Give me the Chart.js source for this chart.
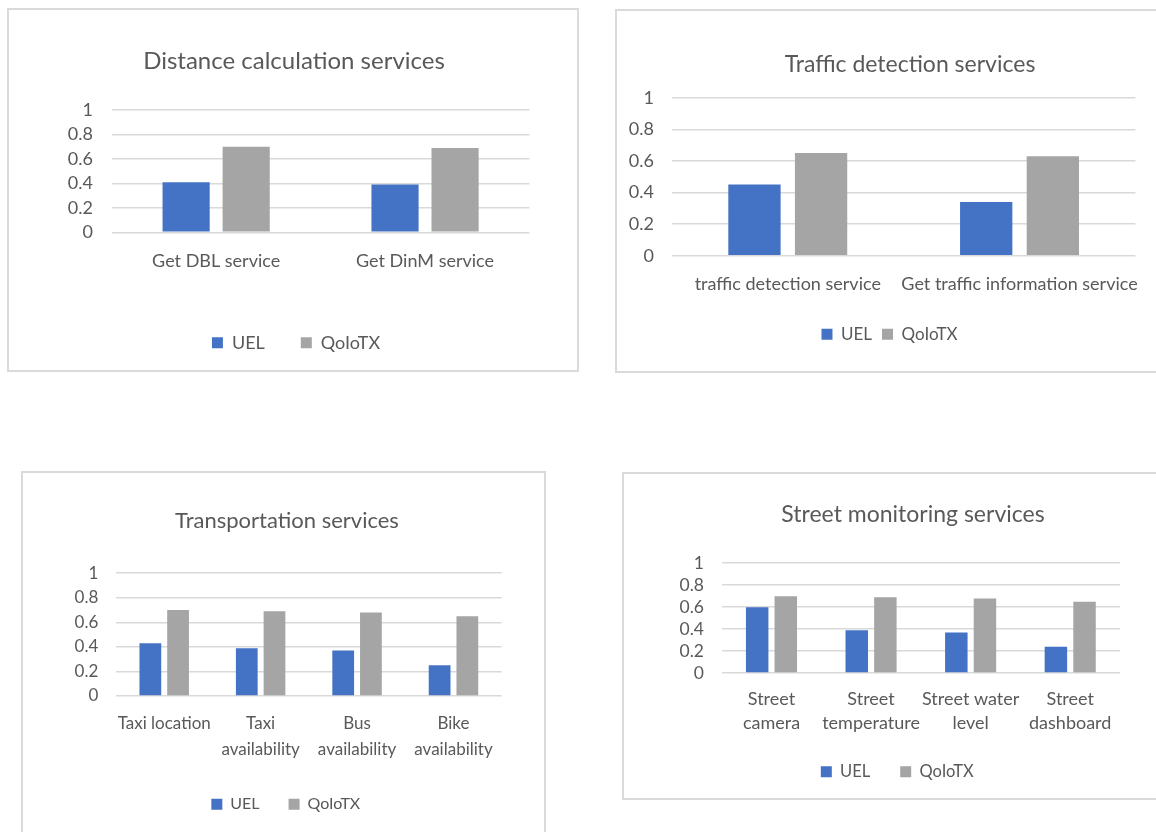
<!DOCTYPE html>
<html>
<head>
<meta charset="utf-8">
<script src="https://cdn.jsdelivr.net/npm/chart.js@4.4.1/dist/chart.umd.min.js"></script>
<style>
  html, body { margin: 0; padding: 0; background: #ffffff; }
  #page { position: relative; width: 1156px; height: 832px; overflow: hidden; background: #ffffff; }
  .box { position: absolute; box-sizing: border-box; border: 2px solid #dadada; }
  canvas { position: absolute; }
</style>
</head>
<body>
<div id="page">
  <div class="box" style="left:7px;top:8px;width:572px;height:364px;"></div>
  <div class="box" style="left:615px;top:9px;width:600px;height:364px;"></div>
  <div class="box" style="left:21px;top:471px;width:525px;height:400px;"></div>
  <div class="box" style="left:622px;top:472px;width:600px;height:328px;"></div>
  <canvas id="c1"></canvas>
  <canvas id="c2"></canvas>
  <canvas id="c3"></canvas>
  <canvas id="c4"></canvas>
</div>
<script>
// ---------------- data ----------------
const seriesNames = ['UEL', 'QoIoTX'];
const yTickLabels = ['0', '0.2', '0.4', '0.6', '0.8', '1'];

const distanceTitle = 'Distance calculation services';
const distanceLabels = ['Get DBL service', 'Get DinM service'];
const distanceUEL = [0.41, 0.39];
const distanceQoIoTX = [0.70, 0.69];

const trafficTitle = 'Traffic detection services';
const trafficLabels = ['traffic detection service', 'Get traffic information service'];
const trafficUEL = [0.45, 0.34];
const trafficQoIoTX = [0.65, 0.63];

const transportTitle = 'Transportation services';
const transportLabels = ['Taxi location', ['Taxi', 'availability'], ['Bus', 'availability'], ['Bike', 'availability']];
const transportUEL = [0.43, 0.39, 0.37, 0.25];
const transportQoIoTX = [0.70, 0.69, 0.68, 0.65];

const streetTitle = 'Street monitoring services';
const streetLabels = [['Street', 'camera'], ['Street', 'temperature'], ['Street water', 'level'], ['Street', 'dashboard']];
const streetUEL = [0.60, 0.39, 0.37, 0.24];
const streetQoIoTX = [0.70, 0.69, 0.68, 0.65];

// ---------------- style ----------------
const FONT = 'Lato, "Open Sans", sans-serif';
const TEXT = '#595959';
const GRID = '#d9d9d9';
const COLORS = ['#4472C4', '#A5A5A5'];

// shifts title / legend blocks horizontally to their reference centres
const blockShift = {
  id: 'blockShift',
  afterLayout(chart, args, opts) {
    const move = (blk, cx) => {
      if (!blk || cx == null) return;
      const d = cx - (blk.left + blk.right) / 2;
      blk.left += d; blk.right += d;
    };
    move(chart.titleBlock, opts.titleX);
    move(chart.legend, opts.legendX);
  }
};

function makePanel(id, p, title, labels, uel, qo) {
  const canvas = document.getElementById(id);
  canvas.style.left = p.cx + 'px';
  canvas.style.top = p.cy + 'px';
  canvas.width = p.cw;
  canvas.height = p.ch;
  const lhT = p.titleSize * 1.2;
  const ty = p.titleY - p.cy;
  const plotTop = p.plotTop - p.cy;
  const plotBottom = p.plotBottom - p.cy;
  const legendYc = p.legendY - p.cy;
  const padBottom = p.ch - legendYc - p.legendSize / 2 - 10;
  const legendH = p.legendSize + p.legendPad + 10;
  const legendTop = p.ch - padBottom - legendH;
  const xAxisH = legendTop - plotBottom;
  new Chart(canvas, {
    type: 'bar',
    data: {
      labels: labels,
      datasets: [
        { label: seriesNames[0], data: uel, backgroundColor: COLORS[0], borderWidth: 0 },
        { label: seriesNames[1], data: qo, backgroundColor: COLORS[1], borderWidth: 0 }
      ]
    },
    options: {
      responsive: false,
      animation: false,
      events: [],
      layout: { padding: { left: 0, top: 0, right: p.cx + p.cw - p.plotRight, bottom: padBottom } },
      datasets: { bar: { categoryPercentage: 0.575, barPercentage: 0.785 } },
      plugins: {
        title: {
          display: true, text: title, color: TEXT,
          font: { family: FONT, size: p.titleSize, weight: 'normal', lineHeight: 1.2 },
          padding: { top: ty - lhT / 2, bottom: plotTop - ty - lhT / 2 }
        },
        legend: {
          position: 'bottom',
          labels: { color: TEXT, font: { family: FONT, size: p.legendSize }, boxWidth: 11, boxHeight: 11, padding: p.legendPad }
        },
        tooltip: { enabled: false },
        blockShift: { titleX: p.titleX - p.cx, legendX: p.legendX - p.cx }
      },
      scales: {
        x: {
          grid: { display: false, drawTicks: false },
          border: { display: false },
          ticks: {
            color: TEXT, autoSkip: false, maxRotation: 0, minRotation: 0,
            font: { family: FONT, size: p.catSize, lineHeight: p.catLh / p.catSize },
            padding: p.catY - p.plotBottom - p.catLh / 2
          },
          afterFit(s) { s.height = xAxisH; }
        },
        y: {
          min: 0, max: 1,
          grid: { color: GRID, lineWidth: 1.6, drawTicks: false },
          border: { display: false },
          ticks: {
            stepSize: 0.2, color: TEXT, autoSkip: false,
            font: { family: FONT, size: p.tickSize },
            padding: p.plotLeft - p.yLabelRight,
            callback: (v, i) => yTickLabels[i]
          },
          afterFit(s) { s.width = p.plotLeft - p.cx; }
        }
      }
    },
    plugins: [blockShift]
  });
}

makePanel('c1', {
  cx: 9, cy: 10, cw: 568, ch: 360,
  titleSize: 24, titleX: 294, titleY: 61.7,
  plotTop: 110, plotBottom: 232.3, plotLeft: 111.7, plotRight: 529.5,
  yLabelRight: 93, tickSize: 18,
  catSize: 18, catY: 261, catLh: 21.6,
  legendSize: 18, legendY: 342.7, legendX: 296, legendPad: 36
}, distanceTitle, distanceLabels, distanceUEL, distanceQoIoTX);

makePanel('c2', {
  cx: 617, cy: 11, cw: 590, ch: 360,
  titleSize: 23, titleX: 910, titleY: 65,
  plotTop: 97.7, plotBottom: 255.7, plotLeft: 671.9, plotRight: 1135.4,
  yLabelRight: 654, tickSize: 18,
  catSize: 18, catY: 284.3, catLh: 21.6,
  legendSize: 17, legendY: 334.3, legendX: 889.5, legendPad: 10
}, trafficTitle, trafficLabels, trafficUEL, trafficQoIoTX);

makePanel('c3', {
  cx: 23, cy: 473, cw: 521, ch: 359,
  titleSize: 22, titleX: 287, titleY: 520.7,
  plotTop: 573.3, plotBottom: 696, plotLeft: 116, plotRight: 501.7,
  yLabelRight: 98.3, tickSize: 17,
  catSize: 17, catY: 724, catLh: 26,
  legendSize: 16, legendY: 804.3, legendX: 285.8, legendPad: 29
}, transportTitle, transportLabels, transportUEL, transportQoIoTX);

makePanel('c4', {
  cx: 624, cy: 474, cw: 590, ch: 324,
  titleSize: 23, titleX: 913, titleY: 514.3,
  plotTop: 563.3, plotBottom: 673, plotLeft: 721.7, plotRight: 1120,
  yLabelRight: 704, tickSize: 17.5,
  catSize: 18, catY: 699, catLh: 23.7,
  legendSize: 16.5, legendY: 771.7, legendX: 897.3, legendPad: 30
}, streetTitle, streetLabels, streetUEL, streetQoIoTX);
</script>
</body>
</html>
